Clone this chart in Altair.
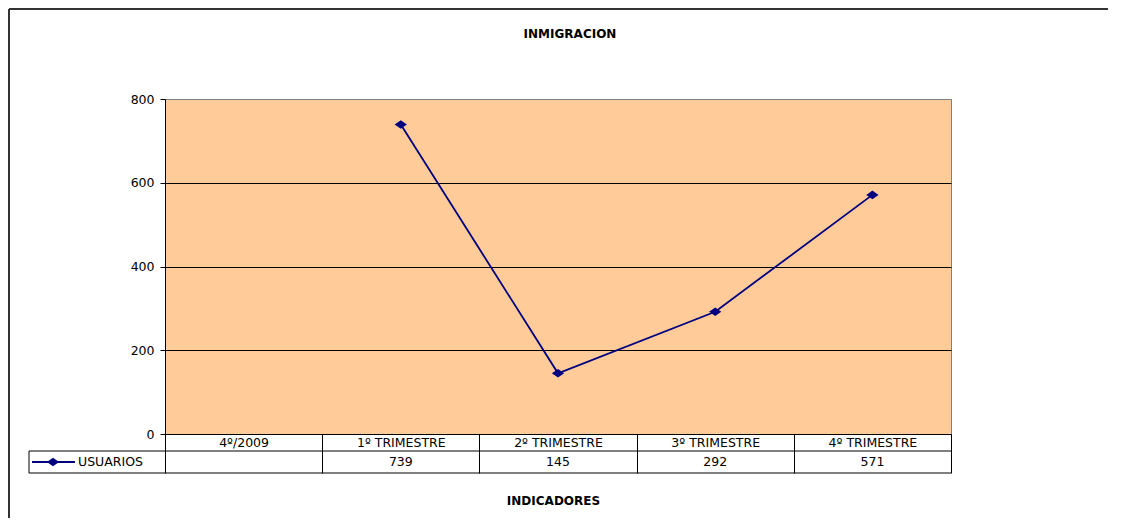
import altair as alt
import pandas as pd

# ---- data ----
categories = ["4º/2009", "1º TRIMESTRE", "2º TRIMESTRE", "3º TRIMESTRE", "4º TRIMESTRE"]
usuarios = [None, 739, 145, 292, 571]
y_ticks = [0, 200, 400, 600, 800]
series_name = "USUARIOS"
chart_title = "INMIGRACION"
x_title = "INDICADORES"

FONT = "DejaVu Sans"
NAVY = "#000080"
DIAMOND = "M-1,0L0,-0.7L1,0L0,0.7Z"

df = pd.DataFrame({"cat": categories, "val": usuarios})
df_pts = df.dropna().copy()
df_pts["label"] = df_pts["val"].astype(int).astype(str)
one = pd.DataFrame({"k": [0]})

W, H = 786, 335

xscale = alt.Scale(type="band", domain=categories, paddingInner=0, paddingOuter=0)
yscale = alt.Scale(domain=[0, 800], nice=False)

x_axis = alt.Axis(
    orient="bottom", domain=True, domainColor="#000000", domainWidth=1,
    ticks=True, tickBand="extent", tickSize=39, tickColor="#000000", tickWidth=1,
    labelFont=FONT, labelFontSize=12.5, labelColor="#000000", labelAngle=0,
    labelBaseline="middle", labelPadding=-30.5, labelAlign="center",
    title=x_title, titleFont=FONT, titleFontSize=12, titleFontWeight="bold",
    titleColor="#000000", titleX=388, titleY=66, titleBaseline="middle",
    titleAlign="center", grid=False,
)
y_axis = alt.Axis(
    values=y_ticks, domain=True, domainColor="#000000", ticks=True, tickSize=5,
    tickColor="#000000", labelFont=FONT, labelFontSize=12.5, labelColor="#000000",
    labelPadding=6, title=None, grid=True,
    gridColor=alt.condition("datum.value === 800", alt.value("#808080"), alt.value("#000000")),
    gridWidth=1,
)

line = alt.Chart(df_pts).mark_line(color=NAVY, strokeWidth=1.8).encode(
    x=alt.X("cat:N", scale=xscale, axis=x_axis, sort=categories),
    y=alt.Y("val:Q", scale=yscale, axis=y_axis),
)
pts = alt.Chart(df_pts).mark_point(shape=DIAMOND, filled=True, color=NAVY, size=150, opacity=1).encode(
    x=alt.X("cat:N", scale=xscale, sort=categories),
    y=alt.Y("val:Q", scale=yscale),
)
row_vals = alt.Chart(df_pts).mark_text(font=FONT, fontSize=12.5, color="#000000", baseline="middle", align="center").encode(
    x=alt.X("cat:N", scale=xscale, sort=categories),
    y=alt.value(363),
    text="label:N",
)

def hrule(x1, x2, y, color="#000000", w=1):
    return alt.Chart(one).mark_rule(color=color, strokeWidth=w).encode(
        x=alt.value(x1), x2=alt.value(x2), y=alt.value(y))

def vrule(x, y1, y2, color="#000000", w=1):
    return alt.Chart(one).mark_rule(color=color, strokeWidth=w).encode(
        x=alt.value(x), y=alt.value(y1), y2=alt.value(y2))

table_lines = hrule(-136, W, 352) + hrule(-136, W, 374) + vrule(-136, 352, 374)
frame = hrule(-156, 960, -90, "#333333", 2) + vrule(-156, -90, 435, "#333333", 2)

leg_line = hrule(-133, -90, 363, NAVY, 1.8)
leg_pt = alt.Chart(one).mark_point(shape=DIAMOND, filled=True, color=NAVY, size=150, opacity=1).encode(
    x=alt.value(-112), y=alt.value(363))
leg_txt = alt.Chart(one).mark_text(font=FONT, fontSize=12.5, color="#000000", align="left", baseline="middle", text=series_name).encode(
    x=alt.value(-87), y=alt.value(363))

title_txt = alt.Chart(one).mark_text(font=FONT, fontSize=12, fontWeight="bold", color="#000000", align="center", baseline="middle", text=chart_title).encode(
    x=alt.value(405), y=alt.value(-65))

chart = alt.layer(
    line, pts, row_vals, table_lines, frame, leg_line, leg_pt, leg_txt, title_txt
).properties(
    width=W, height=H,
    autosize=alt.AutoSizeParams(type="none"),
    padding={"left": 157, "top": 91, "right": 157, "bottom": 84},
    background="#ffffff",
).configure_view(stroke="#808080", fill="#FFCC99", strokeWidth=1)

chart.save("out.html", embed_options={"renderer": "svg", "actions": False})
